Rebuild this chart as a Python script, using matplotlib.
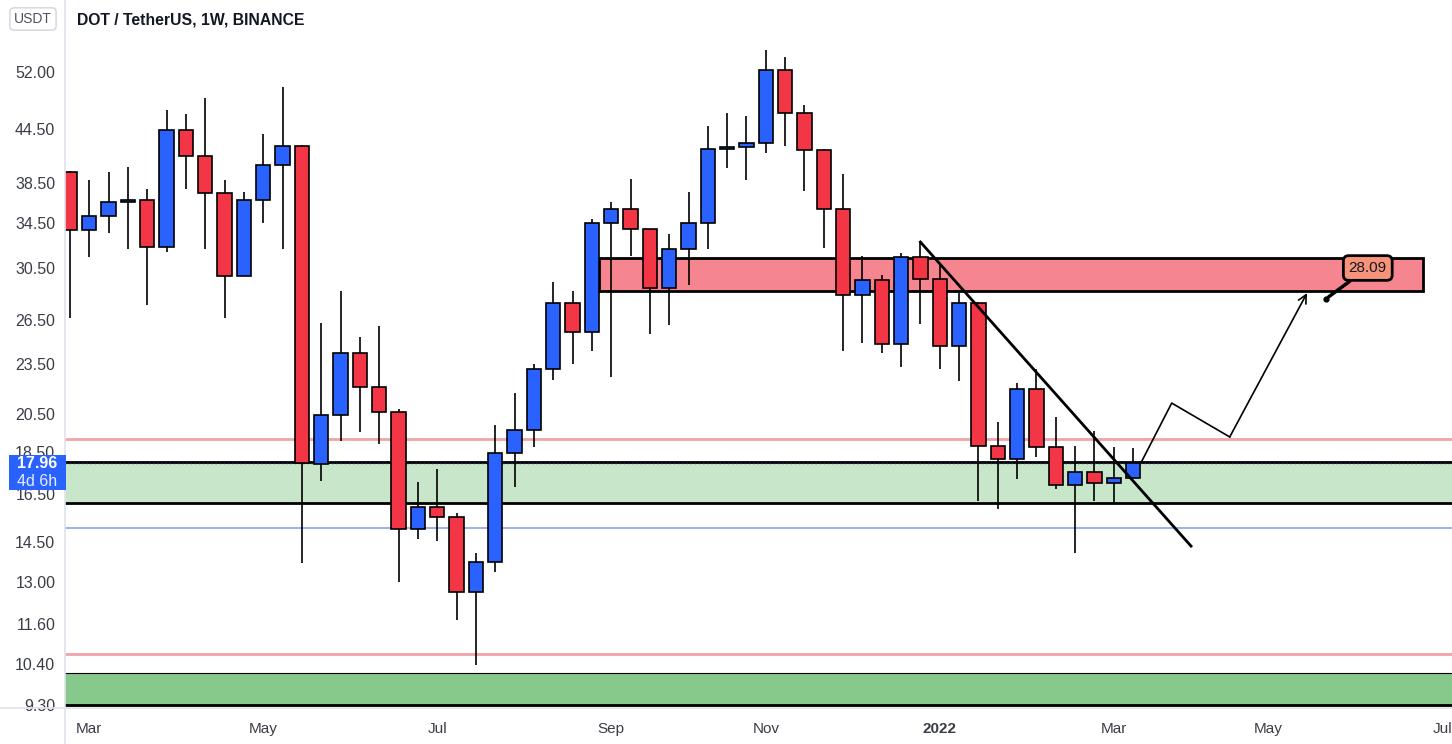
import numpy as np
import pandas as pd
import matplotlib.pyplot as plt
import matplotlib.dates as mdates
from matplotlib.patches import Rectangle
from matplotlib.lines import Line2D
from matplotlib.ticker import FixedLocator, NullLocator, FormatStrFormatter

plt.rcParams['font.family'] = ['Liberation Sans', 'DejaVu Sans']

# weekly DOT/USDT candles
weeks = pd.date_range('2021-02-22', periods=56, freq='7D')
opens = [39.62, 33.84, 35.15, 36.52, 36.72, 32.31, 44.41, 41.38, 37.42, 29.86,
         36.72, 40.38, 42.52, 17.91, 20.46, 24.22, 22.08, 20.63, 15.01, 15.94,
         15.51, 12.65, 13.72, 18.46, 19.65, 23.19, 27.75, 25.64, 34.49, 35.83,
         33.93, 28.90, 32.14, 34.49, 42.18, 42.41, 42.87, 52.28, 46.52, 42.06,
         35.83, 28.36, 29.54, 24.82, 31.45, 29.62, 24.69, 27.75, 18.81, 18.16,
         21.96, 18.76, 16.92, 17.53, 17.01, 17.24]
highs = [39.73, 38.77, 39.62, 40.16, 37.83, 46.90, 46.39, 48.45, 38.77, 37.52,
         43.93, 49.92, 42.64, 26.28, 28.67, 25.30, 26.07, 20.80, 17.06, 17.67,
         15.68, 14.06, 19.92, 21.73, 23.51, 29.38, 28.67, 34.87, 36.52, 38.87,
         33.93, 33.47, 37.52, 44.90, 46.52, 46.14, 55.20, 54.16, 47.54, 42.18,
         39.41, 31.53, 29.94, 31.79, 32.84, 30.94, 28.51, 27.82, 20.08, 22.32,
         23.19, 20.35, 18.81, 19.59, 18.76, 18.71]
lows = [26.64, 31.45, 33.57, 32.14, 27.60, 31.88, 37.83, 32.14, 26.64, 29.86,
        34.49, 32.14, 13.69, 17.10, 19.07, 19.54, 18.91, 13.00, 14.61, 14.53,
        11.72, 10.37, 13.35, 16.83, 18.76, 22.51, 23.51, 24.35, 22.69, 31.53,
        25.51, 26.14, 29.14, 32.14, 40.05, 38.77, 41.72, 42.52, 37.63, 32.22,
        24.35, 24.89, 24.22, 23.32, 26.21, 23.19, 22.45, 16.20, 15.85, 17.20,
        18.26, 16.74, 14.06, 16.20, 16.07, 17.24]
closes = [33.84, 35.15, 36.52, 36.72, 32.31, 44.41, 41.38, 37.42, 29.86, 36.72,
          40.38, 42.52, 17.96, 20.46, 24.22, 22.08, 20.63, 15.01, 15.94, 15.51,
          12.65, 13.72, 18.46, 19.65, 23.19, 27.75, 25.64, 34.49, 35.83, 33.93,
          28.90, 32.14, 34.49, 42.18, 42.41, 42.87, 52.28, 46.52, 42.06, 35.83,
          28.36, 29.54, 24.82, 31.45, 29.62, 24.69, 27.75, 18.81, 18.16, 21.96,
          18.76, 16.92, 17.53, 17.01, 17.24, 17.96]

price_ticks = [52.00, 44.50, 38.50, 34.50, 30.50, 26.50, 23.50, 20.50, 18.50,
               16.50, 14.50, 13.00, 11.60, 10.40, 9.30]
month_ticks = ['2021-03-01', '2021-05-03', '2021-07-05', '2021-09-06', '2021-11-01',
               '2022-01-03', '2022-03-07', '2022-05-02', '2022-07-04']
month_labels = ['Mar', 'May', 'Jul', 'Sep', 'Nov', '2022', 'Mar', 'May', 'Jul']

# drawings
supply_zone = [28.67, 31.36]
supply_span = ['2021-09-01 14:00', '2022-06-27 00:00']
demand_zone = [16.11, 18.01]
deep_zone = [9.30, 10.15]
red_levels = [19.15, 10.69]
blue_level = 15.05
trend_dates = ['2021-12-27', '2022-04-04']
trend_prices = [32.75, 14.33]
path_dates = ['2022-03-17', '2022-03-28', '2022-04-18', '2022-05-16']
path_prices = [18.01, 21.14, 19.28, 28.51]
target = 28.09
target_date = '2022-05-23'
label_date = '2022-06-07'
label_price = 30.52
last_price = 17.96

BLUE = '#2962FF'
RED = '#F23645'

fig = plt.figure(figsize=(14.52, 7.44), dpi=100)
ax = fig.add_axes([65 / 1452, 36 / 744, 1387 / 1452, 708 / 744])
ax.set_yscale('log')

x = mdates.date2num(weeks)
o = np.array(opens)
c = np.array(closes)
colors = np.where(c >= o, BLUE, RED)
ax.vlines(x, lows, highs, color='black', lw=1.2, zorder=3)
ax.bar(x, np.abs(c - o), bottom=np.minimum(o, c), width=5.2, color=colors,
       edgecolor='black', linewidth=1.2, zorder=4)

# zones and levels
ax.axhspan(demand_zone[0], demand_zone[1], color='#C8E6C9', zorder=1, lw=0)
for lvl in demand_zone:
    ax.axhline(lvl, color='black', lw=2, zorder=2)
ax.axhline(last_price, color='#1B2A55', lw=1, ls=(0, (1, 2)), zorder=2)
ax.axhspan(deep_zone[0], deep_zone[1], color='#86C98A', zorder=1, lw=0)
ax.axhline(deep_zone[0], color='black', lw=2, zorder=2)
ax.axhline(deep_zone[1], color='black', lw=0.8, zorder=2)
for lvl in red_levels:
    ax.axhline(lvl, color='#F1A3A8', lw=2, zorder=2)
ax.axhline(blue_level, color='#8DA3E6', lw=1.2, zorder=2)

s0, s1 = mdates.date2num(pd.to_datetime(supply_span))
ax.add_patch(Rectangle((s0, supply_zone[0]), s1 - s0, supply_zone[1] - supply_zone[0],
                       fc='#F5868F', ec='black', lw=2, zorder=2))

# trend line and projection
ax.plot(mdates.date2num(pd.to_datetime(trend_dates)), trend_prices, color='black', lw=2,
        zorder=6)
px = mdates.date2num(pd.to_datetime(path_dates))
ax.plot(px[:-1], path_prices[:-1], color='black', lw=1.2, zorder=6)
ax.annotate('', xy=(px[-1], path_prices[-1]), xytext=(px[-2], path_prices[-2]),
            arrowprops=dict(arrowstyle='->,head_length=0.6,head_width=0.3', lw=1.2,
                            color='black', shrinkA=0, shrinkB=0), zorder=6)

tx = mdates.date2num(pd.Timestamp(target_date))
lx = mdates.date2num(pd.Timestamp(label_date))
ax.plot(tx, target, 'o', color='black', ms=3.5, zorder=7)
ax.annotate(f'{target:.2f}', xy=(tx, target), xytext=(lx, label_price),
            ha='center', va='center', fontsize=11, color='#131722',
            bbox=dict(boxstyle='round,pad=0.35,rounding_size=0.35', fc='#F7937A',
                      ec='black', lw=2),
            arrowprops=dict(arrowstyle='-', color='black', lw=2.5, shrinkA=0, shrinkB=2),
            zorder=7)

# axes
ax.set_ylim(9.228, 63.24)
ax.set_xlim(x[0] - 1.8, x[0] + 500.5)
ax.yaxis.set_major_locator(FixedLocator(price_ticks))
ax.yaxis.set_minor_locator(NullLocator())
ax.yaxis.set_major_formatter(FormatStrFormatter('%.2f'))
ax.set_xticks(mdates.date2num(pd.to_datetime(month_ticks)))
ax.set_xticklabels(month_labels)
ax.get_xticklabels()[5].set_fontweight('bold')
ax.tick_params(axis='y', length=0, pad=7, labelsize=11.5, labelcolor='#3A3D46')
ax.tick_params(axis='x', length=0, pad=10, labelsize=11, labelcolor='#3A3D46')
for side in ['top', 'right', 'left', 'bottom']:
    ax.spines[side].set_visible(False)

fig.add_artist(Line2D([0, 1], [36 / 744, 36 / 744], color='#E0E3EB', lw=1.2))
fig.add_artist(Line2D([65 / 1452, 65 / 1452], [0, 1], color='#E0E3EB', lw=1.2))

fig.text(77 / 1452, 1 - 20 / 744, 'DOT / TetherUS, 1W, BINANCE', fontsize=11.3,
         fontweight='bold', color='#131722', va='center')
fig.text(33 / 1452, 1 - 19 / 744, 'USDT', fontsize=10, color='#50535E', ha='center',
         va='center', bbox=dict(boxstyle='round,pad=0.3', fc='white', ec='#D1D4DC', lw=1))

fig.add_artist(Rectangle((9 / 1452, 1 - 490 / 744), 57 / 1452, 35 / 744,
                         transform=fig.transFigure, fc=BLUE, ec='none', zorder=5))
fig.text(37 / 1452, 1 - 464 / 744, f'{last_price:.2f}', fontsize=11.5, fontweight='bold',
         color='white', ha='center', va='center', zorder=6)
fig.text(37 / 1452, 1 - 482 / 744, '4d 6h', fontsize=11.5, color='#E8EDFF', ha='center',
         va='center', zorder=6)

fig.savefig('out.png', dpi=100, facecolor='white')
